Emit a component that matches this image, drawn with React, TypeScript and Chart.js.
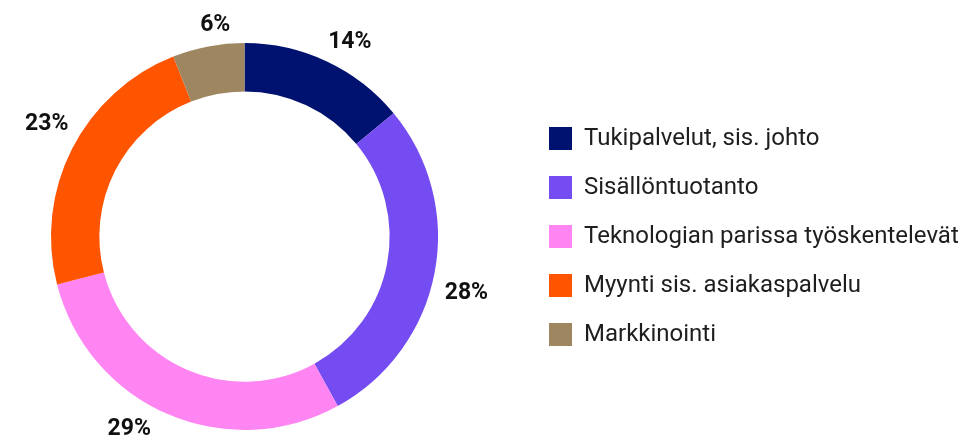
import React, { useEffect, useRef } from 'react';
import { Chart, registerables } from 'chart.js';

Chart.register(...registerables);

const categories = [
  'Tukipalvelut, sis. johto',
  'Sisällöntuotanto',
  'Teknologian parissa työskentelevät',
  'Myynti sis. asiakaspalvelu',
  'Markkinointi',
];
const shares = [14, 28, 29, 23, 6];
const sliceColors = ['#00126F', '#754BF2', '#FF85F3', '#FF5500', '#9E8661'];
const valueLabels = shares.map((v) => `${v}%`);

const LABEL_FONT_SIZE = 23;
const LABEL_ANGLE_SHIFT = (3 * Math.PI) / 180;
const PLOT_LEFT_EXTEND = 35;

// Let the plot area extend a little past the left canvas edge so the ring sits where the reference has it.
const plotAreaShift = {
  id: 'plotAreaShift',
  afterLayout(chart: any) {
    const area = chart.chartArea;
    area.left -= PLOT_LEFT_EXTEND;
    area.width = area.right - area.left;
  },
};

const outsideLabels = {
  id: 'outsideLabels',
  afterDatasetsDraw(chart: any) {
    const { ctx, height } = chart;
    const meta = chart.getDatasetMeta(0);
    ctx.save();
    ctx.font = `bold ${LABEL_FONT_SIZE}px Roboto`;
    ctx.fillStyle = '#111111';
    ctx.textAlign = 'center';
    ctx.textBaseline = 'alphabetic';
    const h = LABEL_FONT_SIZE * 0.711;
    meta.data.forEach((arc: any, i: number) => {
      const { x, y, startAngle, endAngle, outerRadius } = arc.getProps(
        ['x', 'y', 'startAngle', 'endAngle', 'outerRadius'],
        true
      );
      const mid = (startAngle + endAngle) / 2 + LABEL_ANGLE_SHIFT;
      const text = valueLabels[i];
      const w = ctx.measureText(text).width;
      const cos = Math.cos(mid);
      const sin = Math.sin(mid);
      const r = outerRadius + 12 + (Math.abs(cos) * w) / 2 + (Math.abs(sin) * h) / 2;
      let cx = x + r * cos;
      let cy = y + r * sin;
      const minY = h / 2 + 3;
      const maxY = height - h / 2 - 3;
      if (cy > maxY || cy < minY) {
        cy = Math.min(maxY, Math.max(minY, cy));
        const dy = cy - y;
        cx = x + Math.sign(cos) * Math.sqrt(Math.max(0, r * r - dy * dy));
      }
      ctx.fillText(text, cx, cy + h / 2);
    });
    ctx.restore();
  },
};

export default function App() {
  const canvasRef = useRef<HTMLCanvasElement | null>(null);

  useEffect(() => {
    if (!canvasRef.current) return;
    const chart = new Chart(canvasRef.current, {
      type: 'doughnut',
      data: {
        labels: categories,
        datasets: [
          {
            data: shares,
            backgroundColor: sliceColors,
            borderWidth: 0,
            hoverOffset: 0,
          },
        ],
      },
      options: {
        responsive: false,
        animation: false,
        cutout: '75%',
        layout: { padding: { left: 0, right: 0, top: 43, bottom: 8 } },
        plugins: {
          tooltip: { enabled: false },
          legend: {
            position: 'right',
            align: 'center',
            maxWidth: 437,
            labels: {
              boxWidth: 23,
              boxHeight: 23,
              padding: 25,
              color: '#1e1e1e',
              font: { family: 'Roboto', size: 24 },
            },
          },
        },
      },
      plugins: [plotAreaShift, outsideLabels],
    });
    return () => chart.destroy();
  }, []);

  return (
    <div style={{ position: 'fixed', left: 0, top: 0, width: 961, height: 438, background: '#fff' }}>
      <canvas ref={canvasRef} width={961} height={438} style={{ display: 'block' }} />
    </div>
  );
}
